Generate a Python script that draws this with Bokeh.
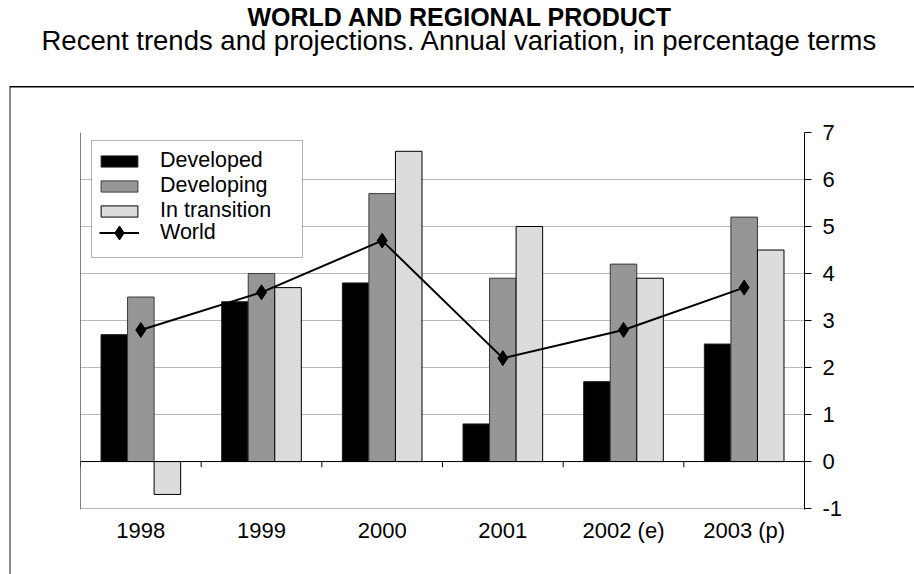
from bokeh.plotting import figure
from bokeh.models import (ColumnDataSource, FactorRange, Range1d, FixedTicker,
                          PrintfTickFormatter, CustomJSTickFormatter, Legend,
                          LegendItem, Span, Title, BoxAnnotation, LinearAxis)
from bokeh.transform import dodge
from bokeh.embed import file_html
from bokeh.resources import INLINE

# Annual variation of product, in percent
years = ["1998", "1999", "2000", "2001", "2002 (e)", "2003 (p)"]
developed = [2.7, 3.4, 3.8, 0.8, 1.7, 2.5]
developing = [3.5, 4.0, 5.7, 3.9, 4.2, 5.2]
in_transition = [-0.7, 3.7, 6.6, 5.0, 3.9, 4.5]
world = [2.8, 3.6, 4.7, 2.2, 2.8, 3.7]
y_ticks = [-1, 0, 1, 2, 3, 4, 5, 6, 7]

FONT = "Liberation Sans"
BAR_W = 0.22

src = ColumnDataSource(dict(year=years, developed=developed, developing=developing,
                            in_transition=in_transition, world=world))

p = figure(width=914, height=574,
           x_range=FactorRange(factors=years, range_padding=0),
           y_range=Range1d(-1.02, 7),
           y_axis_location="right",
           output_backend="svg", toolbar_location=None,
           min_border_left=80, min_border_right=110,
           min_border_top=132, min_border_bottom=65,
           outline_line_color=None,
           background_fill_color="white", border_fill_alpha=0)
p.title.visible = False

# page rules behind the transparent border area
p.styles = {
    "background-image": "linear-gradient(#000,#000), linear-gradient(#8a8a8a,#8a8a8a)",
    "background-size": "904px 1.5px, 2px 488px",
    "background-position": "10px 85.5px, 9px 86px",
    "background-repeat": "no-repeat",
    "background-color": "white",
}

# axes
p.xaxis.axis_line_color = None
p.xaxis.major_tick_line_color = None
p.xaxis.major_tick_out = 0
p.xaxis.major_tick_in = 0
p.xaxis.major_label_standoff = 8
p.xaxis.major_label_text_font = FONT
p.xaxis.major_label_text_font_size = "22px"
p.xaxis.major_label_text_color = "black"

p.yaxis.ticker = FixedTicker(ticks=y_ticks)
p.yaxis.formatter = PrintfTickFormatter(format="%d")
p.yaxis.axis_line_color = "black"
p.yaxis.major_tick_line_color = "black"
p.yaxis.major_tick_out = 7
p.yaxis.major_tick_in = 0
p.yaxis.minor_tick_line_color = None
p.yaxis.major_label_standoff = 11
p.yaxis.major_label_text_font = FONT
p.yaxis.major_label_text_font_size = "22px"
p.yaxis.major_label_text_color = "black"

p.xgrid.visible = False
p.ygrid.ticker = FixedTicker(ticks=y_ticks)
p.ygrid.grid_line_color = "#b8b8b8"
p.ygrid.grid_line_width = 1

# bars
r_dev = p.vbar(x=dodge("year", -BAR_W, range=p.x_range), top="developed", width=BAR_W,
               source=src, fill_color="black", line_color="#202020")
r_dvg = p.vbar(x=dodge("year", 0, range=p.x_range), top="developing", width=BAR_W,
               source=src, fill_color="#969696", line_color="#3a3a3a")
r_trn = p.vbar(x=dodge("year", BAR_W, range=p.x_range), top="in_transition", width=BAR_W,
               source=src, fill_color="#dcdcdc", line_color="black")

# zero line, left edge and category separators
p.add_layout(Span(location=0, dimension="width", line_color="black", line_width=1))
p.add_layout(Span(location=0, dimension="height", line_color="black", line_width=1))
p.segment(x0=dodge("year", -0.5, range=p.x_range), y0=0,
          x1=dodge("year", -0.5, range=p.x_range), y1=-0.12,
          source=src, line_color="black", line_width=1)

# world line
r_wl = p.line(x="year", y="world", source=src, line_color="black", line_width=2)
r_wm = p.scatter(x="year", y="world", source=src, marker="diamond", size=15,
                 fill_color="black", line_color="black")

# legend: white box, bar entries, then the world entry with a larger marker cell
p.add_layout(BoxAnnotation(left=11, right=222, top=369, bottom=252,
                           left_units="screen", right_units="screen",
                           top_units="screen", bottom_units="screen",
                           fill_color="white", fill_alpha=1,
                           line_color="black", line_width=1))

legend_style = dict(label_text_font=FONT, label_text_font_size="21.5px",
                    label_text_color="black", border_line_color=None,
                    background_fill_alpha=0, spacing=0, label_height=24)

bars_legend = Legend(items=[LegendItem(label="Developed", renderers=[r_dev]),
                            LegendItem(label="Developing", renderers=[r_dvg]),
                            LegendItem(label="In transition", renderers=[r_trn])],
                     location="top_left", margin=16, padding=6,
                     glyph_width=46, glyph_height=14, label_standoff=18,
                     **legend_style)
world_legend = Legend(items=[LegendItem(label="World", renderers=[r_wl, r_wm])],
                      location=(19, 259), padding=9,
                      glyph_width=40, glyph_height=35, label_standoff=21,
                      **legend_style)
p.add_layout(bars_legend)
p.add_layout(world_legend)

# blank band between the headings and the plotting area
p.add_layout(LinearAxis(ticker=FixedTicker(ticks=[3]),
                        formatter=CustomJSTickFormatter(code="return ''"),
                        axis_line_color=None,
                        major_tick_line_color="white", major_tick_line_width=0.01,
                        minor_tick_line_color=None,
                        major_tick_in=0, major_tick_out=84,
                        major_label_standoff=0, major_label_text_font_size="1px"),
             "above")

# headings, first added sits closest to the frame
p.add_layout(Title(text="Recent trends and projections. Annual variation, in percentage terms",
                   align="left", offset=-39, vertical_align="middle", standoff=-17,
                   text_font=FONT, text_font_size="27.5px",
                   text_font_style="normal", text_color="black"), "above")
p.add_layout(Title(text="WORLD AND REGIONAL PRODUCT", align="left", offset=167,
                   vertical_align="middle", standoff=2,
                   text_font=FONT, text_font_size="25px", text_font_style="bold",
                   text_color="black"), "above")

open("out.html", "w").write(file_html(p, INLINE))
